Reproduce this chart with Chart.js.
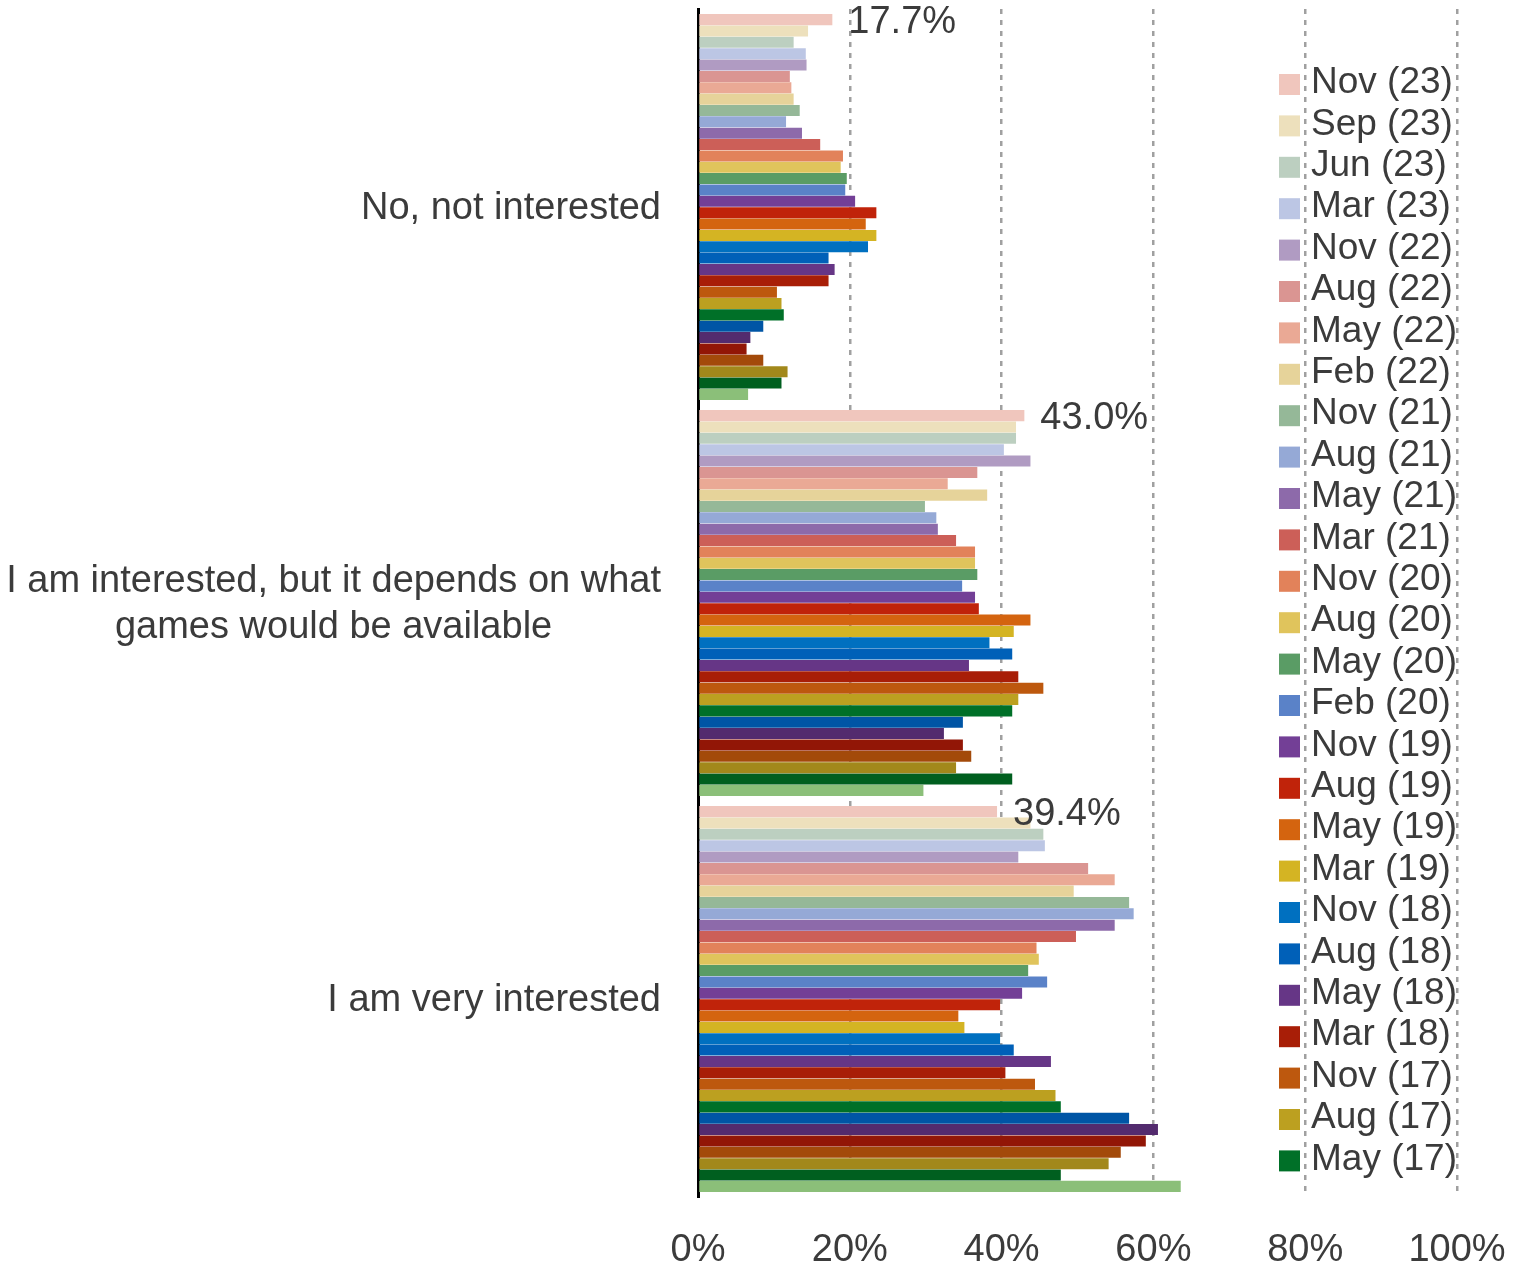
<!DOCTYPE html>
<html>
<head>
<meta charset="utf-8">
<script src="https://cdn.jsdelivr.net/npm/chart.js@4.4.1/dist/chart.umd.min.js"></script>
<style>
    html, body { margin: 0; padding: 0; background: #fff; }
    #wrap { width: 1527px; height: 1268px; }
</style>
</head>
<body>
<div id="wrap"><canvas id="chart" width="1527" height="1268"></canvas></div>
<script>
// Answers, top to bottom (multi-line labels as arrays)
const categories = [
    ['No, not interested'],
    ['I am interested, but it depends on what', 'games would be available'],
    ['I am very interested']
];

// Survey waves, newest first. Only the first 27 fit in the legend.
const waves = [
    'Nov (23)', 'Sep (23)', 'Jun (23)', 'Mar (23)', 'Nov (22)', 'Aug (22)', 'May (22)', 'Feb (22)',
    'Nov (21)', 'Aug (21)', 'May (21)', 'Mar (21)', 'Nov (20)', 'Aug (20)', 'May (20)', 'Feb (20)',
    'Nov (19)', 'Aug (19)', 'May (19)', 'Mar (19)', 'Nov (18)', 'Aug (18)', 'May (18)', 'Mar (18)',
    'Nov (17)', 'Aug (17)', 'May (17)', 'Feb (17)', 'Nov (16)', 'Aug (16)', 'May (16)', 'Feb (16)',
    'Nov (15)', 'Aug (15)'
];
const legendCount = 27;

const waveColors = [
    '#f0c6bd', '#ede0bc', '#bccfc0', '#bcc6e4', '#b09bc2', '#da9592', '#eaa995', '#e6d39a',
    '#95b898', '#95a9d6', '#8d6aaa', '#cc5f58', '#e2825a', '#e0c45c', '#5a9c65', '#5a82c8',
    '#733f96', '#c0230a', '#d4640f', '#d4b423', '#0070c0', '#0060b8', '#663686', '#a81e07',
    '#bd580e', '#bca020', '#007028', '#0055a5', '#532b6e', '#921606', '#a34a0a', '#a2881b',
    '#005f1f', '#8bbf79'
];

// Share of respondents (%) per wave, one array per answer
const notInterested = [
    17.7, 14.5, 12.6, 14.2, 14.3, 12.1, 12.3, 12.6, 13.4, 11.6, 13.7, 16.1, 19.1, 18.8, 19.6, 19.4,
    20.7, 23.5, 22.1, 23.5, 22.4, 17.2, 18.0, 17.2, 10.4, 11.0, 11.3, 8.6, 6.9, 6.4, 8.6, 11.8,
    11.0, 6.6
];
const dependsOnGames = [
    43.0, 41.9, 41.9, 40.3, 43.8, 36.8, 32.9, 38.1, 29.9, 31.4, 31.6, 34.0, 36.5, 36.5, 36.8, 34.8,
    36.5, 37.0, 43.8, 41.6, 38.4, 41.4, 35.7, 42.2, 45.5, 42.2, 41.4, 34.9, 32.4, 34.9, 36.0, 34.0,
    41.4, 29.7
];
const veryInterested = [
    39.4, 43.8, 45.5, 45.7, 42.2, 51.4, 54.9, 49.5, 56.8, 57.4, 54.9, 49.8, 44.6, 44.9, 43.5, 46.0,
    42.7, 39.8, 34.3, 35.1, 39.8, 41.6, 46.5, 40.5, 44.4, 47.1, 47.8, 56.8, 60.6, 59.0, 55.7, 54.1,
    47.8, 63.6
];

const xMax = 100;
const xStep = 20;

const textColor = '#3b3b3b';
const fontFamily = "'Liberation Sans', Arial, sans-serif";

Chart.defaults.font.family = fontFamily;
Chart.defaults.font.size = 38;
Chart.defaults.color = textColor;

const datasets = waves.map((wave, i) => ({
    label: wave,
    data: [notInterested[i], dependsOnGames[i], veryInterested[i]],
    backgroundColor: waveColors[i],
    borderWidth: 0,
    categoryPercentage: 0.975,
    barPercentage: 0.97
}));

// Category labels: block right-aligned to the axis, lines centred in the block
const categoryLabels = {
    id: 'categoryLabels',
    afterDraw(chart) {
        const ctx = chart.ctx;
        const yScale = chart.scales.y;
        const right = chart.chartArea.left - 37;
        const lineHeight = 46;
        ctx.save();
        ctx.font = '38px ' + fontFamily;
        ctx.fillStyle = textColor;
        ctx.textAlign = 'center';
        ctx.textBaseline = 'middle';
        categories.forEach((lines, i) => {
            const cy = yScale.getPixelForValue(i) + 2;
            const blockWidth = Math.max(...lines.map(l => ctx.measureText(l).width));
            const cx = right - blockWidth / 2;
            lines.forEach((line, j) => {
                ctx.fillText(line, cx, cy + (j - (lines.length - 1) / 2) * lineHeight);
            });
        });
        ctx.restore();
    }
};

// Value labels for the latest wave only
const latestLabels = {
    id: 'latestLabels',
    afterDatasetsDraw(chart) {
        const ctx = chart.ctx;
        const meta = chart.getDatasetMeta(0);
        ctx.save();
        ctx.font = '38px ' + fontFamily;
        ctx.fillStyle = textColor;
        ctx.textAlign = 'left';
        ctx.textBaseline = 'middle';
        meta.data.forEach((bar, i) => {
            ctx.fillText(chart.data.datasets[0].data[i].toFixed(1) + '%', bar.x + 16, bar.y + 3);
        });
        ctx.restore();
    }
};

// Legend drawn inside the plot area, on the right
const insideLegend = {
    id: 'insideLegend',
    afterDraw(chart) {
        const ctx = chart.ctx;
        const boxX = chart.chartArea.right - 178;
        const textX = boxX + 32;
        const top = 83;
        const rowStep = 41.4;
        ctx.save();
        ctx.font = '37px ' + fontFamily;
        ctx.textAlign = 'left';
        ctx.textBaseline = 'middle';
        for (let i = 0; i < legendCount; i++) {
            const y = top + i * rowStep;
            ctx.fillStyle = waveColors[i];
            ctx.fillRect(boxX, y - 9, 21, 21);
            ctx.fillStyle = textColor;
            ctx.fillText(waves[i], textX, y);
        }
        ctx.restore();
    }
};

new Chart(document.getElementById('chart'), {
    type: 'bar',
    data: {
        labels: categories,
        datasets: datasets
    },
    options: {
        indexAxis: 'y',
        responsive: false,
        animation: false,
        layout: {
            padding: { left: 0, right: 70, top: 9, bottom: 0 }
        },
        plugins: {
            legend: { display: false },
            tooltip: { enabled: false }
        },
        scales: {
            x: {
                min: 0,
                max: xMax,
                ticks: {
                    stepSize: xStep,
                    padding: 31,
                    color: textColor,
                    callback: v => v + '%'
                },
                grid: {
                    color: '#a0a0a0',
                    lineWidth: 2.5,
                    drawTicks: false
                },
                border: { display: false, dash: [5, 6] },
                afterFit: scale => {
                    scale.height = 71;
                    scale.paddingLeft = 0;
                    scale.paddingRight = 0;
                }
            },
            y: {
                ticks: { display: false },
                grid: { display: false },
                border: { display: true, color: '#000', width: 3 },
                afterFit: scale => { scale.width = 698; }
            }
        }
    },
    plugins: [categoryLabels, latestLabels, insideLegend]
});
</script>
</body>
</html>
